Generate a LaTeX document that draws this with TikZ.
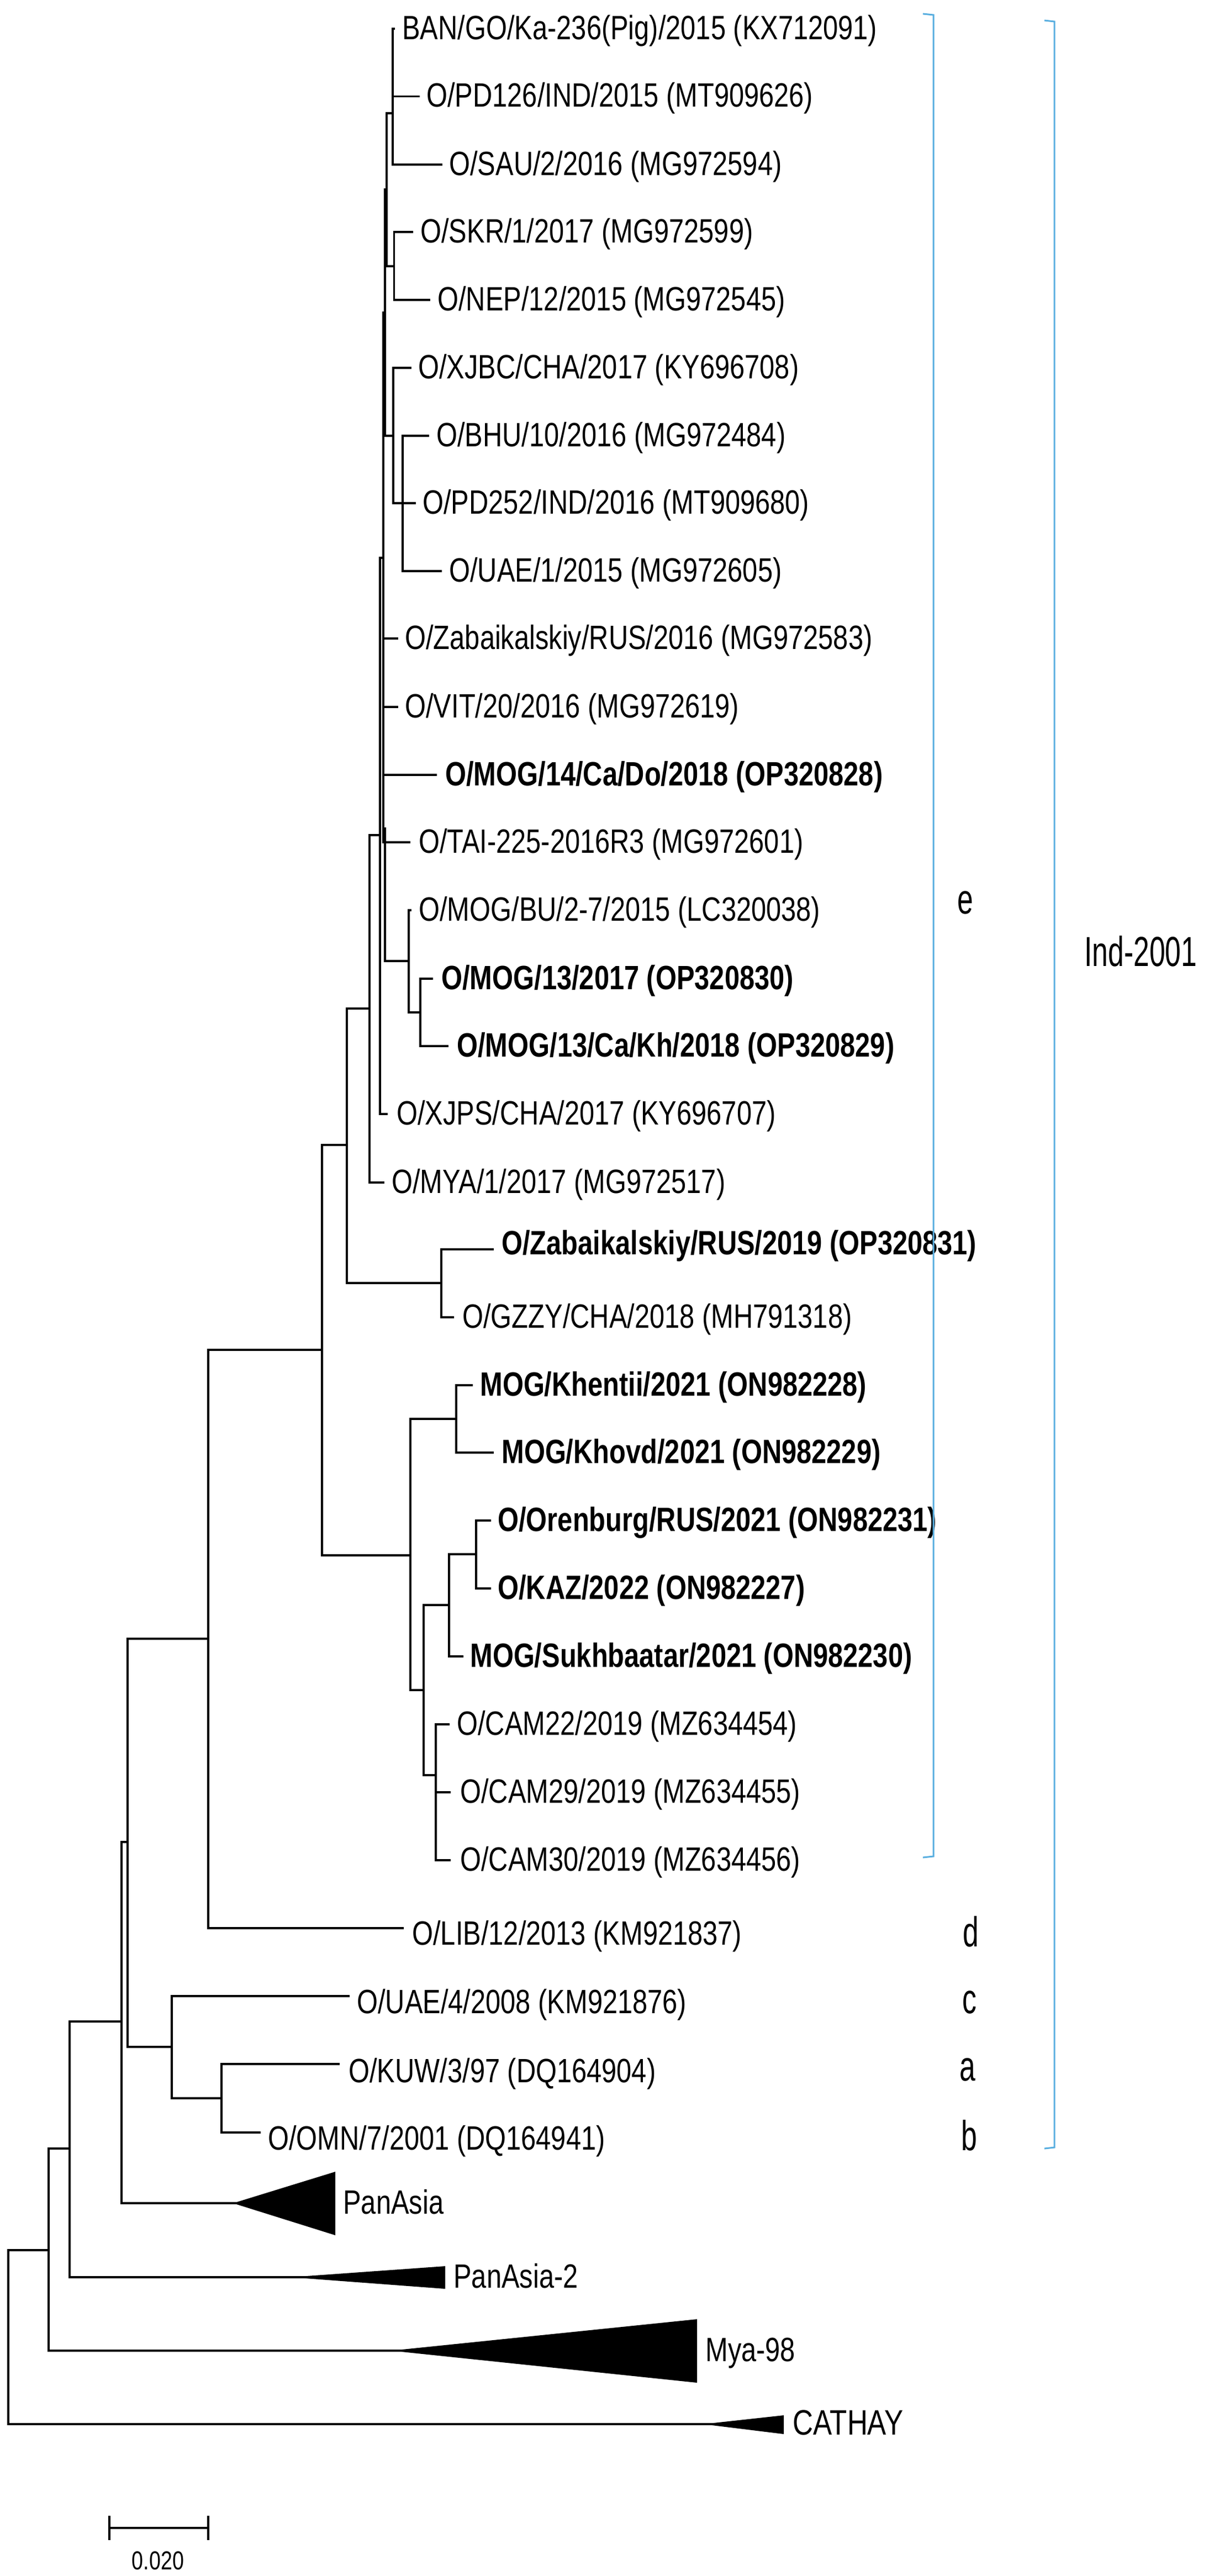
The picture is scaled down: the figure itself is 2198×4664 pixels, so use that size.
\documentclass[tikz,border=0pt]{standalone}
\usepackage{fontspec}
\setmainfont{Liberation Sans}[FakeStretch=0.8]
\newfontfamily\tallfont{Liberation Sans}[FakeStretch=0.68]
\definecolor{brk}{HTML}{5AAFE0}
\tikzset{
  branch/.style={line width=1.8pt,line join=miter,line cap=rect,black},
  bracket/.style={line width=1.5pt,brk},
  leaftext/.style={anchor=base west,inner sep=0pt,font=\fontsize{30.5}{36}\selectfont},
  leafbold/.style={anchor=base west,inner sep=0pt,font=\fontsize{30.5}{36}\selectfont\bfseries},
  grouptext/.style={anchor=base west,inner sep=0pt,font=\fontsize{30.5}{38}\selectfont},
  capstext/.style={anchor=base west,inner sep=0pt,font=\fontsize{32}{38}\selectfont},
  lettertext/.style={anchor=base,inner sep=0pt,font=\tallfont\fontsize{38}{44}\selectfont},
  scaletext/.style={anchor=center,inner sep=0pt,font=\fontsize{23.5}{28}\selectfont},
  wedge/.style={fill=black,draw=none}
}
% id, tip x, branch y, text x, text centre y, style, text
\newcommand\leaf[7]{\coordinate (#1) at (#2,#3); \node[#6] (#1-t) at (#4,#5+19) {#7};}
\newcommand\inner[3]{\coordinate (#1) at (#2,#3);}
\newcommand\clade[2]{\foreach \c in {#2}{\draw[branch] (#1) |- (\c);}}
\newcommand\wedgeat[4]{\fill[wedge] (#1) -- (#2,#3) -- (#2,#4) -- cycle; \draw[branch] (#1) -- ++(40,0);}
\begin{document}
\begin{tikzpicture}[x=0.5pt,y=-0.5pt]
\useasboundingbox (0,0) rectangle (2198,4664);
% leaves
\leaf{ban}{713}{52}{728}{52}{leaftext}{BAN/GO/Ka-236(Pig)/2015 (KX712091)}
\leaf{pd126}{758}{174.5}{772}{174.5}{leaftext}{O/PD126/IND/2015 (MT909626)}
\leaf{sau}{799}{298}{813}{298}{leaftext}{O/SAU/2/2016 (MG972594)}
\leaf{skr}{746}{420}{761}{420}{leaftext}{O/SKR/1/2017 (MG972599)}
\leaf{nep}{777}{543}{792}{543}{leaftext}{O/NEP/12/2015 (MG972545)}
\leaf{xjbc}{743}{666}{757}{666}{leaftext}{O/XJBC/CHA/2017 (KY696708)}
\leaf{bhu}{775}{789}{790}{789}{leaftext}{O/BHU/10/2016 (MG972484)}
\leaf{pd252}{751}{911}{765}{911}{leaftext}{O/PD252/IND/2016 (MT909680)}
\leaf{uaeone}{798}{1034}{813}{1034}{leaftext}{O/UAE/1/2015 (MG972605)}
\leaf{zabold}{719}{1156}{733}{1156}{leaftext}{O/Zabaikalskiy/RUS/2016 (MG972583)}
\leaf{vit}{719}{1280}{733}{1280}{leaftext}{O/VIT/20/2016 (MG972619)}
\leaf{mogfourteen}{789}{1403}{806}{1403}{leafbold}{O/MOG/14/Ca/Do/2018 (OP320828)}
\leaf{tai}{741}{1525}{758}{1525}{leaftext}{O/TAI-225-2016R3 (MG972601)}
\leaf{mogbu}{743}{1648}{758}{1648}{leaftext}{O/MOG/BU/2-7/2015 (LC320038)}
\leaf{mogthirteen}{782}{1772}{799}{1772}{leafbold}{O/MOG/13/2017 (OP320830)}
\leaf{mogca}{810}{1894}{827}{1894}{leafbold}{O/MOG/13/Ca/Kh/2018 (OP320829)}
\leaf{xjps}{700}{2017}{718}{2017}{leaftext}{O/XJPS/CHA/2017 (KY696707)}
\leaf{myaone}{694}{2141}{709}{2141}{leaftext}{O/MYA/1/2017 (MG972517)}
\leaf{zabnew}{892}{2262}{908}{2252}{leafbold}{O/Zabaikalskiy/RUS/2019 (OP320831)}
\leaf{gzzy}{820}{2385}{837}{2385}{leaftext}{O/GZZY/CHA/2018 (MH791318)}
\leaf{khentii}{854}{2508}{869}{2508}{leafbold}{MOG/Khentii/2021 (ON982228)}
\leaf{khovd}{892}{2630}{908}{2630}{leafbold}{MOG/Khovd/2021 (ON982229)}
\leaf{oren}{887}{2753}{901}{2753}{leafbold}{O/Orenburg/RUS/2021 (ON982231)}
\leaf{kaz}{887}{2876}{901}{2876}{leafbold}{O/KAZ/2022 (ON982227)}
\leaf{sukh}{837}{2999}{851}{2999}{leafbold}{MOG/Sukhbaatar/2021 (ON982230)}
\leaf{camA}{812}{3122}{827}{3122}{leaftext}{O/CAM22/2019 (MZ634454)}
\leaf{camB}{814}{3245}{833}{3245}{leaftext}{O/CAM29/2019 (MZ634455)}
\leaf{camC}{814}{3368}{833}{3368}{leaftext}{O/CAM30/2019 (MZ634456)}
\leaf{lib}{729}{3491}{746}{3502}{leaftext}{O/LIB/12/2013 (KM921837)}
\leaf{uaefour}{631}{3614}{646}{3626}{leaftext}{O/UAE/4/2008 (KM921876)}
\leaf{kuw}{613}{3737}{631}{3751}{leaftext}{O/KUW/3/97 (DQ164904)}
\leaf{omn}{470}{3861}{485}{3873}{leaftext}{O/OMN/7/2001 (DQ164941)}
% collapsed groups
\inner{pa}{422}{3989}
\inner{patwo}{526}{4123}
\inner{mya}{708}{4256}
\inner{cathay}{1273}{4389}
\wedgeat{pa}{607}{3932}{4047}
\wedgeat{patwo}{806}{4103}{4144}
\wedgeat{mya}{1262}{4199}{4314}
\wedgeat{cathay}{1419}{4373}{4407}
\node[grouptext] (pa-t) at (621,3989+19) {PanAsia};
\node[grouptext] (patwo-t) at (821,4123+19) {PanAsia-2};
\node[grouptext] (mya-t) at (1277,4256+19) {Mya-98};
\node[capstext] (cathay-t) at (1435,4389+19) {CATHAY};
% internal nodes
\inner{root}{15}{4230}
\inner{nb}{88}{4074}
\inner{nc}{126}{3890}
\inner{nd}{220}{3660}
\inner{ne}{231}{3335}
\inner{nf}{311}{3706}
\inner{ng}{401}{3799}
\inner{nh}{377}{2967}
\inner{ni}{583}{2444}
\inner{nj}{628}{2073}
\inner{nk}{669}{1826}
\inner{nl}{799}{2323}
\inner{nm}{688}{1512}
\inner{nn}{694}{1010}
\inner{no}{697}{566}
\inner{np}{700}{343}
\inner{nq}{711}{205}
\inner{nr}{713.5}{482}
\inner{ns}{712}{789}
\inner{nt}{729}{911}
\inner{nu}{697}{1500}
\inner{nv}{740}{1740}
\inner{nw}{761}{1833}
\inner{nx}{743}{2816}
\inner{ny}{826}{2569}
\inner{nz}{767}{3060}
\inner{naa}{813}{2906}
\inner{nab}{862}{2814}
\inner{nac}{789}{3214}
% connectors
\clade{root}{nb,cathay}
\clade{nb}{nc,mya}
\clade{nc}{nd,patwo}
\clade{nd}{ne,pa}
\clade{ne}{nh,nf}
\clade{nf}{uaefour,ng}
\clade{ng}{kuw,omn}
\clade{nh}{ni,lib}
\clade{ni}{nj,nx}
\clade{nj}{nk,nl}
\clade{nl}{zabnew,gzzy}
\clade{nk}{nm,myaone}
\clade{nm}{nn,xjps}
\clade{nn}{no,zabold,vit,mogfourteen,tai,nu}
\clade{nu}{nv}
\clade{no}{np,ns}
\clade{np}{nq,nr}
\clade{nq}{ban,pd126,sau}
\clade{nr}{skr,nep}
\clade{ns}{xjbc,nt}
\clade{nt}{bhu,pd252,uaeone}
\clade{nv}{mogbu,nw}
\clade{nw}{mogthirteen,mogca}
\clade{nx}{ny,nz}
\clade{ny}{khentii,khovd}
\clade{nz}{naa,nac}
\clade{naa}{nab,sukh}
\clade{nab}{oren,kaz}
\clade{nac}{camA,camB,camC}
% brackets
\coordinate (ea) at (1671,25);
\coordinate (eb) at (1690,27);
\coordinate (ec) at (1690,3361);
\coordinate (ed) at (1671,3363);
\draw[bracket] (ea) -- (eb) -- (ec) -- (ed);
\coordinate (ia) at (1891,37);
\coordinate (ib) at (1909,39);
\coordinate (ic) at (1909,3888);
\coordinate (id) at (1891,3890);
\draw[bracket] (ia) -- (ib) -- (ic) -- (id);
% clade letters
\node[lettertext] (le) at (1748,1654) {e};
\node[lettertext] (ld) at (1758,3524) {d};
\node[lettertext] (lc) at (1755,3645) {c};
\node[lettertext] (la) at (1752,3767) {a};
\node[lettertext] (lb) at (1755,3893) {b};
\node[lettertext,anchor=base west] (lind) at (1963,1749) {Ind-2001};
% scale bar
\coordinate (sa) at (198,4577);
\coordinate (sb) at (377,4577);
\coordinate (sc) at (198,4555);
\coordinate (sd) at (198,4599);
\coordinate (se) at (377,4555);
\coordinate (sf) at (377,4599);
\draw[branch,line cap=butt] (sa) -- (sb);
\draw[branch,line cap=butt] (sc) -- (sd);
\draw[branch,line cap=butt] (se) -- (sf);
\node[scaletext] (st) at (286,4636) {0.020};
\end{tikzpicture}
\end{document}
